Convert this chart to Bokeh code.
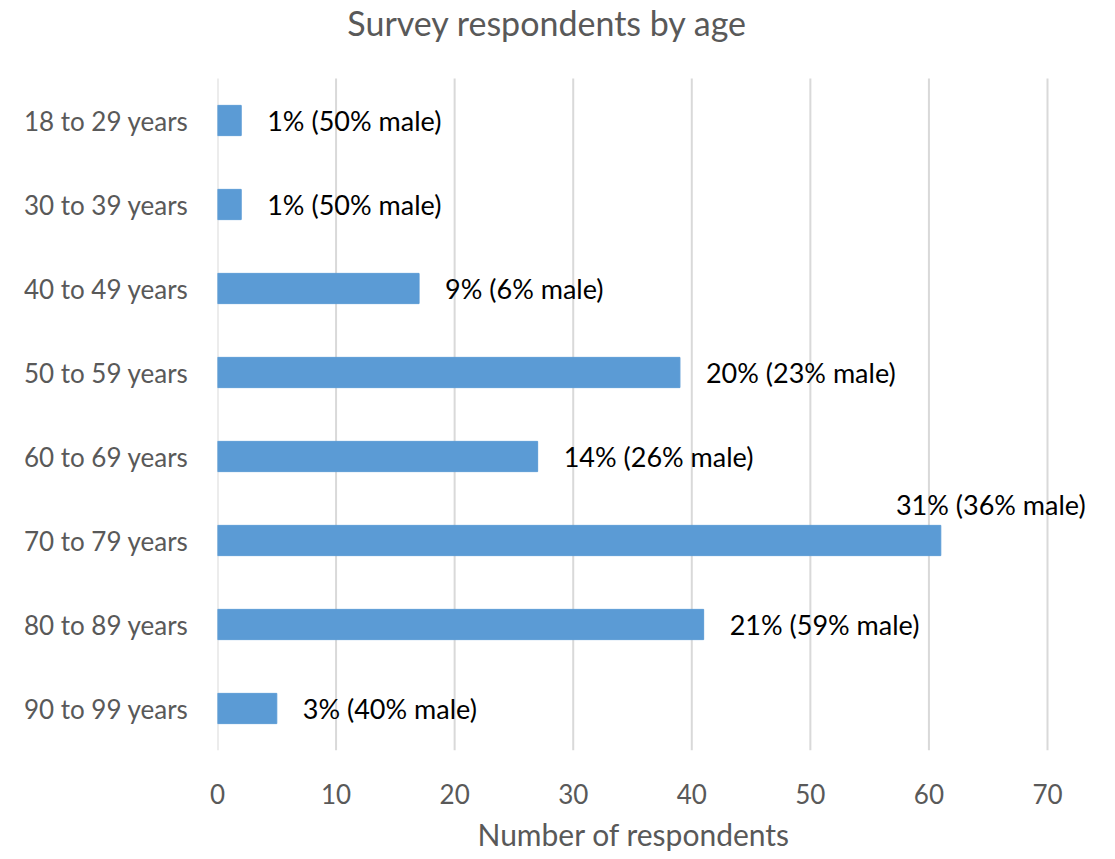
from bokeh.plotting import figure
from bokeh.models import ColumnDataSource, Range1d, FixedTicker, Title
from bokeh.core.properties import value
from bokeh.embed import file_html
from bokeh.resources import INLINE

categories = ["18 to 29 years", "30 to 39 years", "40 to 49 years", "50 to 59 years",
              "60 to 69 years", "70 to 79 years", "80 to 89 years", "90 to 99 years"]
respondents = [2, 2, 17, 39, 27, 61, 41, 5]
labels = ["1% (50% male)", "1% (50% male)", "9% (6% male)", "20% (23% male)",
          "14% (26% male)", "31% (36% male)", "21% (59% male)", "3% (40% male)"]
x_ticks = [0, 10, 20, 30, 40, 50, 60, 70]
title_text = "Survey respondents by age"

FONT = "Lato"
GREY = "#595959"

W, H = 1115, 859
LEFT, RIGHT_70, TOP, BOTTOM = 217, 1047, 78, 750   # plot-area box of the original chart

n = len(categories)
ypos = list(range(n, 0, -1))                 # first category on top
px_per_x = (RIGHT_70 - LEFT) / 70.0
px_per_y = (BOTTOM - TOP) / n
x_end = (W - LEFT) / px_per_x
y_start = 0.5
y_end = n + 0.5 + TOP / px_per_y             # frame reaches the top of the canvas (room for title)

p = figure(width=W, height=H, output_backend="svg", toolbar_location=None,
           x_range=Range1d(0, x_end), y_range=Range1d(y_start, y_end),
           min_border_left=LEFT, min_border_right=0, min_border_top=0,
           min_border_bottom=H - BOTTOM)
p.outline_line_color = None
p.background_fill_color = "white"
p.border_fill_color = "white"

# vertical gridlines limited to the plot area
p.segment(x0=x_ticks, x1=x_ticks, y0=[y_start] * len(x_ticks), y1=[n + 0.5] * len(x_ticks),
          line_color="#D9D9D9", line_width=2)

src = ColumnDataSource(dict(y=ypos, val=respondents, lab=labels, cat=categories))
p.hbar(y="y", right="val", left=0, height=0.36, source=src,
       fill_color="#5B9BD5", line_color="#5B9BD5")

main = [i for i in range(n) if categories[i] != "70 to 79 years"]
special = [i for i in range(n) if categories[i] == "70 to 79 years"]

src_main = ColumnDataSource(dict(y=[ypos[i] for i in main],
                                 val=[respondents[i] for i in main],
                                 lab=[labels[i] for i in main]))
p.text(x="val", y="y", text="lab", source=src_main, x_offset=26,
       text_baseline="middle", text_align="left", text_font=value(FONT),
       text_font_size="27px", text_color="black")

src_sp = ColumnDataSource(dict(y=[ypos[i] for i in special],
                               val=[respondents[i] for i in special],
                               lab=[labels[i] for i in special]))
p.text(x="val", y="y", text="lab", source=src_sp, x_offset=50, y_offset=-36,
       text_baseline="middle", text_align="center", text_font=value(FONT),
       text_font_size="27px", text_color="black")

# chart title
p.text(x=[(547 - LEFT) / px_per_x], y=[n + 0.5 + (TOP - 22) / px_per_y], text=[title_text],
       text_baseline="middle", text_align="center", text_font=value(FONT),
       text_font_size="34px", text_color=GREY)

p.xgrid.grid_line_color = None
p.ygrid.grid_line_color = None

p.xaxis.ticker = FixedTicker(ticks=x_ticks)
p.xaxis.axis_line_color = None
p.xaxis.major_tick_line_color = None
p.xaxis.minor_tick_line_color = None
p.xaxis.major_label_text_font = FONT
p.xaxis.major_label_text_font_size = "26px"
p.xaxis.major_label_text_color = GREY
p.xaxis.major_label_standoff = 27

xlabel = Title(text="Number of respondents", align="left", offset=260, standoff=14,
               text_font=FONT, text_font_size="30px", text_font_style="normal",
               text_color=GREY)
p.add_layout(xlabel, "below")

p.yaxis.ticker = FixedTicker(ticks=ypos)
p.yaxis.major_label_overrides = {y: c for y, c in zip(ypos, categories)}
p.yaxis.axis_line_color = None
p.yaxis.major_tick_line_color = None
p.yaxis.minor_tick_line_color = None
p.yaxis.major_label_text_font = FONT
p.yaxis.major_label_text_font_size = "26px"
p.yaxis.major_label_text_color = GREY
p.yaxis.major_label_standoff = 23

open("out.html", "w").write(file_html(p, INLINE))
